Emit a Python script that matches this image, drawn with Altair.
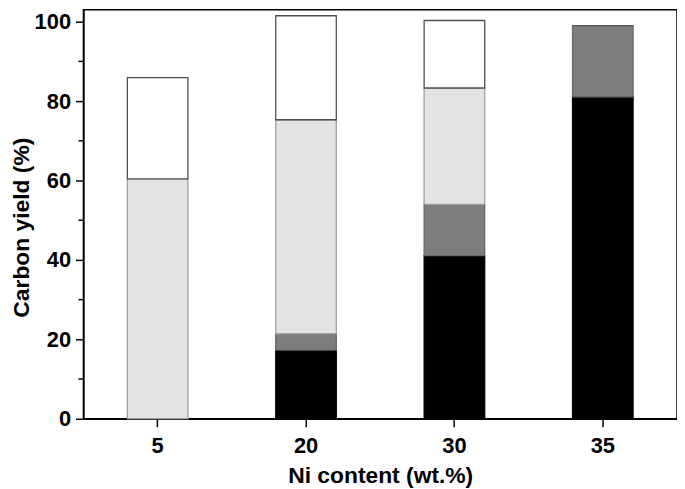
import altair as alt
import pandas as pd

categories = ["5", "20", "30", "35"]
series = ["black", "dark", "light", "white"]
black_vals = [0.0, 17.3, 41.1, 81.1]
dark_vals = [0.0, 4.1, 12.9, 17.9]
light_vals = [60.4, 53.9, 29.3, 0.0]
white_vals = [25.5, 26.2, 17.0, 0.0]
y_major = [0, 20, 40, 60, 80, 100]
y_minor = [10, 30, 50, 70, 90]

fills = ["#000000", "#7d7d7d", "#e3e3e3", "#ffffff"]
strokes = ["#000000", "#666666", "#a0a0a0", "#505050"]

rows = []
for i, c in enumerate(categories):
    for j, (s, vals) in enumerate(zip(series, [black_vals, dark_vals, light_vals, white_vals])):
        rows.append({"ni": c, "series": s, "idx": j, "value": vals[i]})
df = pd.DataFrame(rows)
minor_df = pd.DataFrame({"v": y_minor})

FONT = "Liberation Sans"

bars = alt.Chart(df).mark_bar(size=61, strokeWidth=1.3).encode(
    x=alt.X("ni:N", sort=categories,
            scale=alt.Scale(paddingInner=0, paddingOuter=0),
            axis=alt.Axis(title="Ni content (wt.%)", labelAngle=0,
                          tickSize=8, labelPadding=9,
                          titleY=46, titleBaseline="top")),
    y=alt.Y("value:Q", stack="zero",
            scale=alt.Scale(domain=[0, 103], nice=False, zero=True),
            axis=alt.Axis(title="Carbon yield (%)", values=y_major,
                          tickSize=8, labelPadding=5,
                          titleX=-73, titleY=219, titleBaseline="top",
                          titleAngle=270, titleAlign="center")),
    fill=alt.Fill("series:N", scale=alt.Scale(domain=series, range=fills), legend=None),
    stroke=alt.Stroke("series:N", scale=alt.Scale(domain=series, range=strokes), legend=None),
    order=alt.Order("idx:Q", sort="ascending"),
)

minor = alt.Chart(minor_df).mark_rule(color="black", strokeWidth=1.5).encode(
    x=alt.value(-5), x2=alt.value(0), y=alt.Y("v:Q")
)

chart = alt.layer(bars, minor).properties(
    width=598, height=412,
    padding={"left": 3, "top": 0, "right": 0, "bottom": 0}
).configure_view(
    stroke="black", strokeWidth=1.5
).configure_axis(
    domainColor="black", domainWidth=1.5, tickColor="black", tickWidth=1.5,
    labelFont=FONT, labelFontSize=22, labelFontWeight="bold", labelColor="black",
    titleFont=FONT, titleFontSize=23, titleFontWeight="bold", titleColor="black",
    grid=False
)

chart.save("out.html", embed_options={"renderer": "svg", "actions": False})
